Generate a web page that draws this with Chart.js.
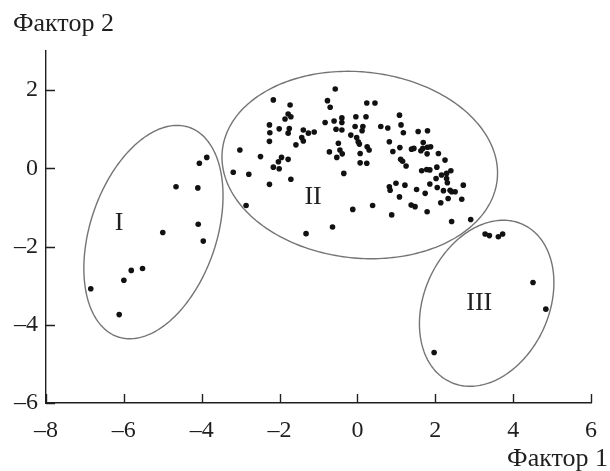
<!DOCTYPE html>
<html><head><meta charset="utf-8">
<script src="https://cdn.jsdelivr.net/npm/chart.js@4"></script>
<style>html,body{margin:0;padding:0;background:#fff}</style>
</head><body>
<canvas id="c" width="610" height="471"></canvas>
<script>
const xTicks = [-8, -6, -4, -2, 0, 2, 4, 6];
const yTicks = [-6, -4, -2, 0, 2];
const xTitle = 'Фактор 1';
const yTitle = 'Фактор 2';
const clusterNames = ['I', 'II', 'III'];
const clusterLabelX = [-6.12, -1.14, 3.13];
const clusterLabelY = [-1.40, -0.74, -3.45];
// cluster regions in data units: centre x, centre y, semi-axis a, semi-axis b, tilt (deg)
const regionCx = [-5.24, 0.06, 3.32];
const regionCy = [-1.63, 0.085, -3.45];
const regionA = [2.83, 3.55, 2.22];
const regionB = [1.62, 2.38, 1.60];
const regionTilt = [19, 96, 25];

const clusterI = [[-3.87,0.28],[-4.06,0.13],[-4.66,-0.47],[-4.10,-0.50],[-4.09,-1.43],[-5.00,-1.64],[-3.96,-1.86],[-5.52,-2.56],[-5.81,-2.61],[-6.00,-2.86],[-6.85,-3.08],[-6.12,-3.74]];
const clusterII = [[-0.57,2.03],[-2.16,1.75],[-1.73,1.62],[-0.77,1.73],[-0.70,1.56],[-1.78,1.39],[-1.71,1.32],[-1.86,1.26],[-2.26,1.11],[-2.01,1.01],
[-1.75,1.02],[-1.78,0.90],[-2.25,0.91],[-2.26,0.69],[-1.39,0.98],[-1.26,0.90],[-1.11,0.93],[-1.43,0.79],[-1.39,0.70],[-1.58,0.60],
[-3.02,0.47],[-2.49,0.30],[-1.95,0.28],[-2.03,0.17],[-1.78,0.23],[-2.16,0.03],[-2.01,-0.01],[-3.19,-0.10],[-2.79,-0.15],[-1.71,-0.28],
[-0.35,-0.13],[-0.83,1.17],[-0.60,1.21],[-0.40,1.29],[-0.40,1.17],[-0.04,1.32],[-0.55,1.00],[-0.40,0.98],[-0.06,1.07],[-0.17,0.85],
[-0.02,0.79],[-0.49,0.64],[-0.45,0.47],[-0.39,0.37],[-0.72,0.42],[-0.53,0.28],[0.24,1.67],[0.45,1.67],[0.22,1.32],[1.08,1.36],
[0.14,1.07],[0.12,0.96],[0.60,1.07],[0.78,1.03],[1.12,1.11],[1.18,0.91],[1.56,0.94],[1.80,0.96],[0.02,0.68],[0.05,0.62],
[0.25,0.55],[0.30,0.47],[0.07,0.38],[0.07,0.14],[0.24,0.13],[0.82,0.68],[1.09,0.53],[0.91,0.43],[1.39,0.49],[1.45,0.51],
[1.63,0.45],[1.68,0.51],[1.80,0.54],[1.88,0.55],[1.69,0.66],[1.79,0.37],[2.08,0.38],[2.25,0.21],[1.11,0.23],[1.16,0.18],
[1.25,0.06],[1.65,-0.06],[1.78,-0.03],[1.86,-0.04],[2.04,0.03],[2.16,-0.17],[2.29,-0.13],[2.40,-0.06],[2.02,-0.26],[2.29,-0.26],
[2.31,-0.37],[-2.26,-0.41],[-2.86,-0.95],[-0.12,-1.05],[-0.64,-1.50],[-1.32,-1.67],[0.99,-0.38],[1.22,-0.43],[0.82,-0.47],[0.84,-0.56],
[1.86,-0.40],[2.05,-0.49],[1.52,-0.54],[2.21,-0.57],[2.38,-0.56],[2.42,-0.60],[2.51,-0.60],[2.72,-0.43],[1.74,-0.64],[2.33,-0.77],
[2.68,-0.79],[1.08,-0.73],[2.14,-0.88],[0.39,-0.95],[1.38,-0.94],[1.48,-0.98],[0.88,-1.19],[1.79,-1.11],[2.42,-1.36],[2.91,-1.31]];
const clusterIII = [[3.28,-1.68],[3.39,-1.72],[3.62,-1.75],[3.73,-1.68],[4.51,-2.92],[4.84,-3.60],[1.97,-4.71]];

const FONT = "'Liberation Serif', 'Times New Roman', serif";
const INK = '#1f1f1f';
const fmt = v => String(v).replace('-', '\u2013');
const toPts = arr => arr.map(p => ({x: p[0], y: p[1]}));
const ds = (arr) => ({data: toPts(arr), backgroundColor: '#111', borderColor: '#111', pointRadius: 2.8, pointBorderWidth: 0, pointHoverRadius: 2.8});

const decor = {
  id: 'decor',
  afterDatasetsDraw(chart) {
    const {ctx, scales: {x, y}, chartArea: ca} = chart;
    ctx.save();
    ctx.strokeStyle = '#747474';
    ctx.lineWidth = 1.4;
    for (let i = 0; i < regionCx.length; i++) {
      const th = regionTilt[i] * Math.PI / 180;
      const mx = Math.sin(th), my = Math.cos(th);
      const nx = Math.cos(th), ny = -Math.sin(th);
      ctx.beginPath();
      for (let k = 0; k <= 240; k++) {
        const t = k / 240 * 2 * Math.PI;
        const dx = regionCx[i] + regionA[i] * Math.cos(t) * mx + regionB[i] * Math.sin(t) * nx;
        const dy = regionCy[i] + regionA[i] * Math.cos(t) * my + regionB[i] * Math.sin(t) * ny;
        const px = x.getPixelForValue(dx), py = y.getPixelForValue(dy);
        if (k === 0) ctx.moveTo(px, py); else ctx.lineTo(px, py);
      }
      ctx.closePath();
      ctx.stroke();
    }
    ctx.fillStyle = INK;
    ctx.font = '26px ' + FONT;
    ctx.textAlign = 'center';
    ctx.textBaseline = 'middle';
    clusterNames.forEach((n, i) => ctx.fillText(n, x.getPixelForValue(clusterLabelX[i]), y.getPixelForValue(clusterLabelY[i])));
    ctx.strokeStyle = INK;
    ctx.lineWidth = 1.4;
    ctx.beginPath();
    xTicks.forEach(v => { const p = Math.round(x.getPixelForValue(v)) + 0.5; ctx.moveTo(p, ca.bottom); ctx.lineTo(p, ca.bottom - 9); });
    yTicks.forEach(v => { const p = Math.round(y.getPixelForValue(v)) + 0.5; ctx.moveTo(ca.left, p); ctx.lineTo(ca.left + 9, p); });
    ctx.stroke();
    ctx.font = '26px ' + FONT;
    ctx.textBaseline = 'alphabetic';
    ctx.textAlign = 'left';
    ctx.fillText(yTitle, 13, 31);
    ctx.textAlign = 'right';
    ctx.fillText(xTitle, 608, 466);
    ctx.restore();
  }
};

new Chart(document.getElementById('c'), {
  type: 'scatter',
  data: {datasets: [ds(clusterI), ds(clusterII), ds(clusterIII)]},
  options: {
    responsive: false, animation: false, devicePixelRatio: 1,
    layout: {padding: {left: 0, right: 19, top: 51, bottom: 0}},
    plugins: {legend: {display: false}, tooltip: {enabled: false}},
    scales: {
      x: {
        type: 'linear', min: -8, max: 6,
        afterBuildTicks: s => { s.ticks = xTicks.map(v => ({value: v})); },
        afterFit: s => { s.height = 68; },
        grid: {display: false, drawTicks: false},
        border: {display: true, color: INK, width: 1.4},
        ticks: {padding: 13, color: INK, font: {family: FONT, size: 24}, callback: v => fmt(v)}
      },
      y: {
        type: 'linear', min: -6, max: 3,
        afterBuildTicks: s => { s.ticks = yTicks.map(v => ({value: v})); },
        afterFit: s => { s.width = 46; },
        grid: {display: false, drawTicks: false},
        border: {display: true, color: INK, width: 1.4},
        ticks: {padding: 8, color: INK, font: {family: FONT, size: 24}, callback: v => fmt(v)}
      }
    }
  },
  plugins: [decor]
});
</script>
</body></html>
